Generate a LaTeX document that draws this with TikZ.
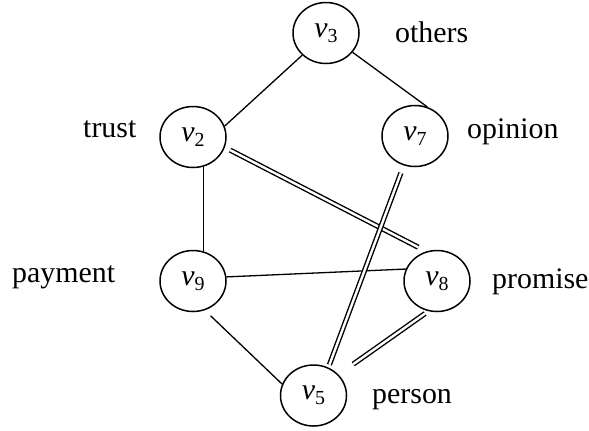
\documentclass[tikz,border=0pt]{standalone}
\usepackage{fontspec}
\setmainfont{Liberation Serif}
\usetikzlibrary{shapes.geometric}
\begin{document}
\begin{tikzpicture}[x=1bp,y=-1bp,
  vnode/.style={draw,ellipse,line width=1.5bp,minimum width=66bp,minimum height=61bp,inner sep=0pt,font=\fontsize{30}{33}\selectfont},
  lbl/.style={font=\fontsize{30}{33}\selectfont,inner sep=0pt,anchor=base west},
  single/.style={line width=1.3bp},
  dbl/.style={double,double distance=2.4bp,line width=1.4bp}]
\useasboundingbox (0,0) rectangle (589,430);
\newcommand{\vv}[1]{\textit{v}\raisebox{-0.35ex}{\fontsize{20}{20}\selectfont #1}}
\node[vnode] (v3) at (326,33) {\vv{3}};
\node[vnode] (v2) at (193,137) {\vv{2}};
\node[vnode] (v7) at (415,136) {\vv{7}};
\node[vnode] (v9) at (193,281) {\vv{9}};
\node[vnode] (v8) at (437,281) {\vv{8}};
\node[vnode] (v5) at (313.5,395.5) {\vv{5}};
\node[lbl] (l3) at (395,42) {others};
\node[lbl] (l2) at (83,137) {trust};
\node[lbl] (l7) at (467,138) {opinion};
\node[lbl] (l9) at (12,282) {payment};
\node[lbl] (l8) at (492,288) {promise};
\node[lbl] (l5) at (372,403) {person};
\draw[single] (v3.-137) -- (v2.19);
\draw[single] (v3.-36) -- (v7.67);
\draw[single] (v2.-70) -- (v9.70);
\draw[single] (v9.7) -- (v8.159);
\draw[single,shorten <=8bp] (v9.-68) -- (v5.160);
\draw[dbl,shorten <=6bp,shorten >=9bp] (v2.-18) -- (v8.110);
\draw[dbl,shorten <=8bp,shorten >=3bp] (v7.-111) -- (v5.62);
\draw[dbl,shorten <=4bp,shorten >=18bp] (v8.-106) -- (v5.40);
\end{tikzpicture}
\end{document}
